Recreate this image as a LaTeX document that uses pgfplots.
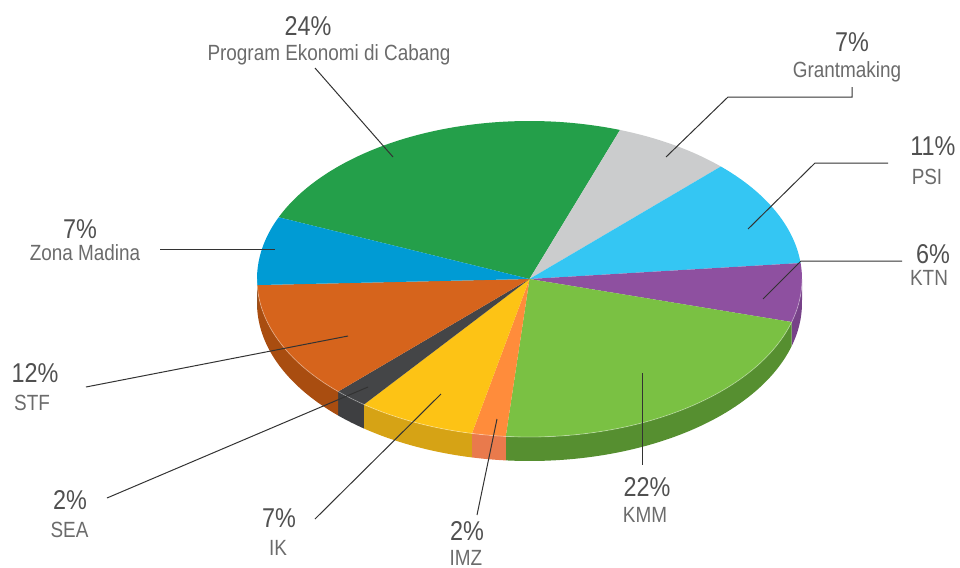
\documentclass[border=0pt]{standalone}
\usepackage{pgfplots}
\pgfplotsset{compat=1.18}
\usepackage{pgfplotstable}
\usepackage{fontspec}
\setmainfont{Liberation Sans}[FakeStretch=0.86]

% top faces
\definecolor{c0}{HTML}{249F4A}
\definecolor{c1}{HTML}{CBCCCD}
\definecolor{c2}{HTML}{34C6F3}
\definecolor{c3}{HTML}{8E50A0}
\definecolor{c4}{HTML}{7AC143}
\definecolor{c5}{HTML}{FF8C3B}
\definecolor{c6}{HTML}{FDC315}
\definecolor{c7}{HTML}{444547}
\definecolor{c8}{HTML}{D6641C}
\definecolor{c9}{HTML}{009BD4}
% side faces
\definecolor{s0}{HTML}{1B7A38}
\definecolor{s1}{HTML}{A3A4A5}
\definecolor{s2}{HTML}{279BC0}
\definecolor{s3}{HTML}{774288}
\definecolor{s4}{HTML}{568F30}
\definecolor{s5}{HTML}{E97A4C}
\definecolor{s6}{HTML}{D6A315}
\definecolor{s7}{HTML}{3E3F41}
\definecolor{s8}{HTML}{A94D10}
\definecolor{s9}{HTML}{0081B0}
\definecolor{txtd}{HTML}{505050}
\definecolor{txtl}{HTML}{6B6B6B}
\definecolor{lead}{HTML}{333333}

\tikzset{
  pct/.style={font=\fontsize{13.6}{15}\selectfont, text=txtd, inner sep=0pt, anchor=base},
  nm/.style={font=\fontsize{11}{13}\selectfont, text=txtl, inner sep=0pt, anchor=base},
}
\pgfplotsset{leader/.style={lead, line width=0.5pt, no markers}}

% shares in percent, clockwise from the top-left
\pgfplotstableread{
pct
24
7
11
6
22
2
7
2
12
7
}\piedata

\begin{document}
\begin{tikzpicture}
\begin{axis}[
  width=480pt, height=284pt, scale only axis,
  xmin=0, xmax=960, ymin=0, ymax=568, y dir=reverse,
  hide axis, clip=false,
]
\addplot[draw=none, no markers] coordinates {(0,0) (960,568)};

% side band (front half only)
\pgfmathsetmacro\cur{157}
\pgfplotsforeachungrouped \i in {0,...,9}{%
  \pgfplotstablegetelem{\i}{pct}\of\piedata
  \pgfmathsetmacro\s{\cur}%
  \pgfmathsetmacro\e{\cur-3.6*\pgfplotsretval}%
  \pgfmathsetmacro\a{min(\s,0)}%
  \pgfmathsetmacro\b{max(\e,-180)}%
  \pgfmathsetmacro\d{\b-\a}%
  \pgfmathtruncatemacro\vis{\a>\b}%
  \ifnum\vis=1
    \edef\cmd{\noexpand\addplot[fill=s\i, draw=none, domain=0:3, samples=181]
      ({529.5+272.5*cos((x<1 ? (\a)+(\d)*x : (x<2 ? (\b) : (\b)-(\d)*(x-2))))},
       {279-158*sin((x<1 ? (\a)+(\d)*x : (x<2 ? (\b) : (\b)-(\d)*(x-2))))+(x<1 ? 0 : (x<2 ? 24*(x-1) : 24))})
      -- cycle;}%
    \cmd
  \fi
  \global\let\cur\e
}

% top faces
\pgfmathsetmacro\cur{157}
\pgfplotsforeachungrouped \i in {0,...,9}{%
  \pgfplotstablegetelem{\i}{pct}\of\piedata
  \pgfmathsetmacro\s{\cur}%
  \pgfmathsetmacro\e{\cur-3.6*\pgfplotsretval}%
  \edef\cmd{\noexpand\addplot[fill=c\i, draw=none, domain=\e:\s, samples=90]
    ({529.5+272.5*cos(x)}, {279-158*sin(x)}) -- (529.5,279) -- cycle;}%
  \cmd
  \global\let\cur\e
}
% light rim along the front edge
\addplot[white, opacity=0.35, line width=0.4pt, domain=-180:0, samples=120]
  ({529.5+272.5*cos(x)}, {279-158*sin(x)});

% leader lines
\addplot[leader] coordinates {(393,157) (315,68)};
\addplot[leader] coordinates {(666,157) (728,97) (852,97) (852,87)};
\addplot[leader] coordinates {(748,229) (815,163) (888,163)};
\addplot[leader] coordinates {(763,299) (801,261) (902,261)};
\addplot[leader] coordinates {(160,249) (275,249)};
\addplot[leader] coordinates {(348,336) (86,387)};
\addplot[leader] coordinates {(368,387) (107,498)};
\addplot[leader] coordinates {(441,394) (315,519)};
\addplot[leader] coordinates {(497,419) (477,515)};
\addplot[leader] coordinates {(642,373) (642,465)};

% labels
\node[pct] at (308,35) {24\%};
\node[nm]  at (329,60) {Program Ekonomi di Cabang};
\node[pct] at (852,51) {7\%};
\node[nm]  at (847,77) {Grantmaking};
\node[pct] at (933,155) {11\%};
\node[nm]  at (927,184) {PSI};
\node[pct] at (933,263) {6\%};
\node[nm]  at (929,285) {KTN};
\node[pct] at (80,238) {7\%};
\node[nm]  at (85,260) {Zona Madina};
\node[pct] at (35,382) {12\%};
\node[nm]  at (32,410) {STF};
\node[pct] at (70,509) {2\%};
\node[nm]  at (69.5,537) {SEA};
\node[pct] at (279,527) {7\%};
\node[nm]  at (278,555) {IK};
\node[pct] at (467,540) {2\%};
\node[nm]  at (466,565) {IMZ};
\node[pct] at (647,496) {22\%};
\node[nm]  at (645,522) {KMM};
\end{axis}
\end{tikzpicture}
\end{document}
